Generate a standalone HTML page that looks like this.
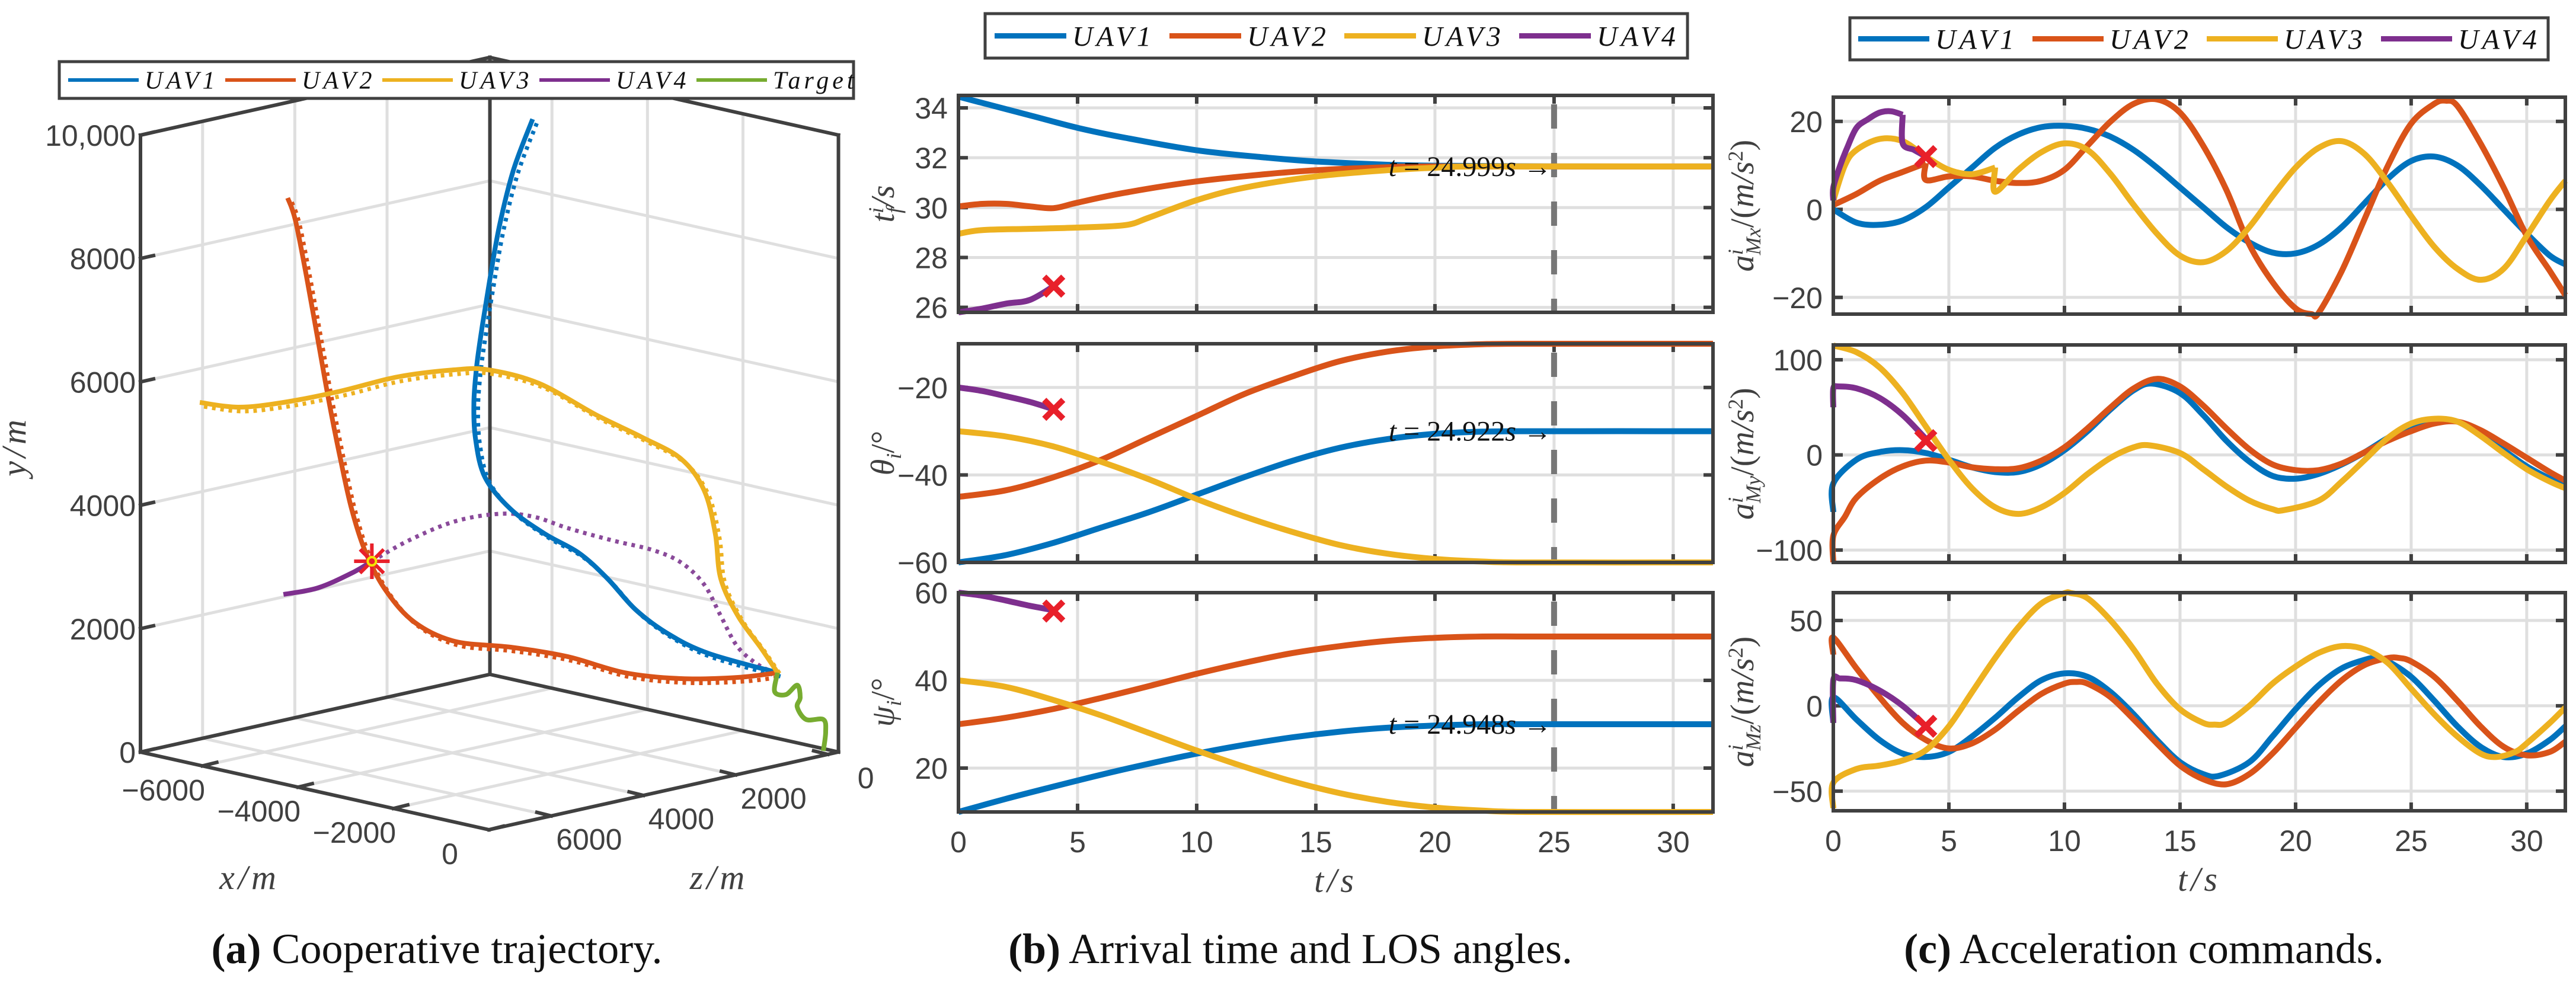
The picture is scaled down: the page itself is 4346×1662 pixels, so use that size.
<!DOCTYPE html>
<html><head><meta charset="utf-8">
<style>
html,body{margin:0;padding:0;background:#fff;}
svg{display:block;}
text{font-family:"Liberation Sans",sans-serif;}
.tk{font-size:50px;fill:#404040;}
text.mi,.mi{font-family:"Liberation Serif",serif;font-style:italic;}
text.ser{font-family:"Liberation Serif",serif;}
text.cap{font-family:"Liberation Serif",serif;font-size:72px;fill:#111;}
</style></head>
<body>
<svg id="fig" width="4346" height="1662" viewBox="0 0 4346 1662" xmlns="http://www.w3.org/2000/svg">
<g id="pa"></g>
<g id="pb"></g>
<g id="pc"></g>
<text class="cap" x="737" y="1625" text-anchor="middle"><tspan font-weight="bold">(a)</tspan> Cooperative trajectory.</text>
<text class="cap" x="2177" y="1625" text-anchor="middle"><tspan font-weight="bold">(b)</tspan> Arrival time and LOS angles.</text>
<text class="cap" x="3617" y="1625" text-anchor="middle"><tspan font-weight="bold">(c)</tspan> Acceleration commands.</text>
</svg>
<script>
// ---------- Panel (a) 3D data (metres) ----------
const uav1X=[-3197,-3396,-3545,-3650,-3724,-3780,-3811,-3793,-3693,-3427,-3066,-2713,-2415,-2117,-1763,-1347,-633];
const uav1Y=[10259,9443,8521,7608,6897,6282,5668,5062,4448,3938,3535,3228,2815,2305,1902,1595,1287];
const uav1Z=[3092,3298,3453,3562,3639,3697,3729,3710,3607,3330,2957,2590,2281,1972,1605,1174,434];
const uav2X=[-5760,-5680,-5562,-5444,-5326,-5208,-5090,-4941,-4730,-4432,-4016,-3427,-2831,-2235,-1645,-1049,-633];
const uav2Y=[8982,8626,7704,6686,5668,4755,3938,3228,2613,2104,1796,1700,1547,1287,1191,1210,1287];
const uav2Z=[5750,5667,5545,5422,5300,5178,5056,4901,4682,4373,3942,3330,2712,2094,1483,865,434];
const uav3X=[-6679,-6276,-5804,-5208,-4612,-4016,-3662,-3128,-2533,-2061,-1645,-1403,-1285,-1229,-1049,-813,-633];
const uav3Y=[5668,5591,5668,5850,6081,6196,6196,5975,5466,5110,4755,4246,3535,2815,2209,1700,1287];
const uav3Z=[6703,6285,5796,5178,4560,3942,3575,3021,2403,1914,1483,1232,1109,1051,865,620,434];
const uav4X=[-5804,-5444,-5090,-4879];
const uav4Y=[2555,2661,2901,3093];
const uav4Z=[5796,5422,5056,4836];
const uav4PlanX=[-4879,-4494,-4016,-3545,-3184,-2831,-2359,-1943,-1645,-1403,-1229,-1049,-813,-633];
const uav4PlanY=[3093,3429,3737,3862,3814,3631,3429,3276,3074,2719,2209,1700,1393,1287];
const uav4PlanZ=[4836,4437,3942,3453,3079,2712,2223,1792,1483,1232,1051,865,620,434];
const tgtX=[-633,-664,-546,-428,-397,-428,-335,-155,-130,-155];
const tgtY=[1287,980,932,1085,884,730,528,528,327,19];
const tgtZ=[434,466,344,221,189,221,124,-62,-88,-62];
const yTicks3=[0,2000,4000,6000,8000,10000];
const yTickLabels3=["0","2000","4000","6000","8000","10,000"];
const xTicks3=[-6000,-4000,-2000,0];
const zTicks3=[6000,4000,2000,0];

// ---------- Panel (b) data ----------
const tfT1=[0,3,5,7,10,13,15,18,20,25,31.67];
const tfV1=[34.45,33.7,33.2,32.8,32.3,32.0,31.85,31.72,31.68,31.65,31.65];
const tfT2=[0,1,2,3,4,5,7,10,13,15,18,20,31.67];
const tfV2=[30.05,30.15,30.15,30.05,29.98,30.2,30.6,31.05,31.35,31.5,31.62,31.65,31.65];
const tfT3=[0,1,3,5,7,8,10,12,15,18,20,22,31.67];
const tfV3=[28.95,29.1,29.15,29.2,29.3,29.6,30.3,30.8,31.25,31.5,31.6,31.65,31.65];
const tfT4=[0,1,2,3,4];
const tfV4=[25.8,25.95,26.15,26.3,26.85];
const angT=[0,2,4,6,8,10,12,14,16,18,20,22,24,31.67];
const thV1=[-60,-58.3,-55.5,-52,-48.5,-44.5,-40.5,-36.8,-33.8,-31.8,-30.6,-30.1,-30,-30];
const thV2=[-45,-43.5,-40.5,-36.5,-31.5,-26.5,-21.5,-17.5,-14,-11.8,-10.6,-10.1,-10,-10];
const thV3=[-30,-31.2,-33.5,-37,-41,-45.5,-49.5,-53,-56,-58,-59.2,-59.8,-60,-60];
const t4Short=[0,1,2,3,4];
const thV4=[-20,-20.8,-22,-23.3,-25];
const psV1=[10,13,15.8,18.5,21,23.3,25.3,27,28.3,29.2,29.7,30,30,30];
const psV2=[30,31.5,33.5,36,38.7,41.5,44,46.2,47.8,49,49.7,50,50,50];
const psV3=[40,38.5,35.5,32,28,24,20.3,17,14.3,12.3,11,10.3,10,10];
const psV4=[60,59.3,58.2,57,56];
const crashT=4, crashTf=26.85, crashTh=-25, crashPs=55.8;
const annTimes=["24.999","24.922","24.948"];
const annVals=[31.65,-30,30];
const tTicks=[0,5,10,15,20,25,30];

// ---------- Panel (c) data ----------
const axT1=[0,1,2,3,4,5,6,7,8,9,10,11,12,13,14,15,16,17,18,19,20,21,22,23,24,25,26,27,28,29,30,31,31.67];
const axV1=[0,-3,-3.5,-2.5,0.5,5,9.5,14,17,18.7,19,18.3,16.5,13.5,9.5,5,0.5,-4,-7.5,-9.8,-10,-8,-4,1.5,7,11,12,10,5.5,0,-5.5,-10.5,-12.5];
const axT2=[0,1,2,3,4,4,5,6,7,8,9,10,11,12,13,14,15,16,17,18,19,20,20.7,21,22,23,24,25,26,26.5,27,28,29,30,31,31.67];
const axV2=[1,3.5,6.5,8.5,10.5,6.7,7.5,7.5,6.5,6,6.5,9,14.5,20,24,25,22,14.5,4.5,-8,-16.5,-22.5,-23.8,-23.5,-14,-2,10,19.5,24,24.7,23.5,15,5,-6,-14,-19.5];
const axT3=[0,0.5,1,2,3,4,5,6,7,7,8,9,10,11,12,13,14,15,16,17,18,19,20,21,22,23,24,25,26,27,28,29,30,31,31.67];
const axV3=[2,10,13.5,16,15.5,12,9,8,9.5,4,9,13,15,13.5,8,1,-5.5,-10.5,-12,-9.5,-4,3,9.5,14,15.5,12.5,6,-1.5,-8.5,-13.5,-16,-13.5,-6,2,6.5];
const axT4=[0,0,0.3,0.6,1,1.5,2,2.5,3,3,3.5,4];
const axV4=[2,5,10,14,18.5,20.5,22,22.3,21.5,15,13.5,12];
const ayT1=[0,0,1,2,3,4,5,6,7,8,9,10,11,12,13,13.8,15,16,17,18,19,20,21,22,23,24,25,26,27,28,29,30,31,31.67];
const ayV1=[-60,-30,-5,3,5,2,-5,-13,-18,-18,-10,5,25,48,68,75,65,42,15,-7,-22,-25,-20,-10,3,18,30,37,35,22,5,-12,-25,-32];
const ayT2=[0,0,0.5,1,2,3,4,5,6,7,8,9,10,11,12,13,14,15,16,17,18,19,20,21,22,23,24,25,26,27,28,29,30,31,31.67];
const ayV2=[-113,-85,-65,-45,-25,-12,-6,-8,-13,-15,-14,-6,8,28,50,70,80,72,52,28,6,-10,-16,-16,-9,3,15,25,33,35,26,12,-3,-18,-27];
const ayT3=[0,1,2,3,4,5,6,7,8,9,10,11,12,13,13.7,15,16,17,18,19,19.5,21,22,23,24,25,26,27,28,29,30,31,31.67];
const ayV3=[115,108,92,65,30,-5,-35,-55,-62,-55,-40,-20,-3,8,10,2,-15,-33,-48,-57,-58,-48,-28,-5,18,33,38,35,20,2,-15,-28,-35];
const ayT4=[0,0,0.2,1,2,3,4];
const ayV4=[50,70,72,70,60,42,17];
const azT1=[0,0,1,2,3,4,5,6,7,8,9,10,11,12,13,14,15,16,16.7,18,19,20,21,22,23,23.5,24,25,26,27,28,29,30,31,31.67];
const azV1=[-10,5,-8,-20,-28,-30,-27,-18,-7,5,15,19,17,8,-5,-20,-33,-40,-41,-33,-18,-2,12,22,27,28,26,17,3,-12,-24,-30,-28,-20,-12];
const azT2=[0,0,1,2,3,4,5,6,7,8,9,10,10.5,11,12,13,14,15,16,17,18,19,20,21,22,23,24,24.5,25,26,27,28,29,30,31,31.67];
const azV2=[30,40,22,5,-10,-20,-25,-22,-14,-3,7,13,14,13,5,-8,-22,-35,-43,-46,-40,-28,-13,2,15,24,28,28,26,17,3,-12,-24,-29,-27,-21];
const azT3=[0,0,1,2,3,4,5,6,7,8,9,10,10.3,11,12,13,14,15,16,16.5,17,18,19,20,21,22,23,24,25,26,27,28,28.7,29.5,30,31,31.67];
const azV3=[-60,-45,-37,-35,-32,-26,-12,8,28,46,60,66,66,63,50,33,13,-2,-10,-11,-10,0,13,23,31,35,33,25,10,-5,-18,-28,-30,-27,-22,-10,-1];
const azT4=[0,0,0.3,1,2,3,4];
const azV4=[-10,15,16,15,9,0,-12];
const crashAx=12, crashAy=15, crashAz=-12;

const C={b:"#0072BD",r:"#D95319",y:"#EDB120",p:"#7E2F8E",g:"#77AC30",x:"#E8202A",ax:"#404040",gr:"#dfdfdf"};
const NS="http://www.w3.org/2000/svg";
function mk(parent,tag,attrs){const e=document.createElementNS(NS,tag);for(const k in attrs)e.setAttribute(k,attrs[k]);parent.appendChild(e);return e;}
function smooth(pts){
  if(pts.length<2)return "";
  let d="M"+pts[0][0].toFixed(1)+","+pts[0][1].toFixed(1);
  for(let i=0;i<pts.length-1;i++){
    const p0=pts[i-1]||pts[i],p1=pts[i],p2=pts[i+1],p3=pts[i+2]||p2;
    const c1=[p1[0]+(p2[0]-p0[0])/6,p1[1]+(p2[1]-p0[1])/6];
    const c2=[p2[0]-(p3[0]-p1[0])/6,p2[1]-(p3[1]-p1[1])/6];
    d+="C"+c1[0].toFixed(1)+","+c1[1].toFixed(1)+" "+c2[0].toFixed(1)+","+c2[1].toFixed(1)+" "+p2[0].toFixed(1)+","+p2[1].toFixed(1);
  }
  return d;
}
function seriesPath2(ts,vs,fx,fy){
  let parts=[],seg=[];
  for(let i=0;i<ts.length;i++){
    const p=[fx(ts[i]),fy(vs[i])];
    if(i>0&&ts[i]===ts[i-1]){parts.push(seg);seg=[seg[seg.length-1],p];}
    else seg.push(p);
  }
  parts.push(seg);
  return parts.map(s=>s.length===2&&s[0][0]===s[1][0]?"M"+s[0][0]+","+s[0][1]+"L"+s[1][0]+","+s[1][1]:smooth(s)).join("");
}
function cross(g,x,y,name){
  const s=16;
  const e=mk(g,"path",{d:`M${x-s},${y-s}L${x+s},${y+s}M${x-s},${y+s}L${x+s},${y-s}`,stroke:C.x,"stroke-width":10,fill:"none"});
  
  
}
function legend(g,x0,y0,x1,y1,startX,spacing,lineLen,lw,fs,names,cols,prefix){
  const box=mk(g,"rect",{x:x0,y:y0,width:x1-x0,height:y1-y0,fill:"#fff",stroke:C.ax,"stroke-width":5});
  
  
  const yc=(y0+y1)/2;
  names.forEach((n,i)=>{
    const lx=startX+i*spacing;
    const ln=mk(g,"line",{x1:lx,y1:yc,x2:lx+lineLen,y2:yc,stroke:cols[i],"stroke-width":lw});
    
    
    const t=mk(g,"text",{x:lx+lineLen+10,y:yc+fs*0.35,"font-size":fs,"letter-spacing":"6",fill:"#111",class:"mi"});
    t.textContent=n;
    
    
  });
}

function subplot(g,o){
  const fx=t=>o.x0+(t-o.tmin)/(o.tmax-o.tmin)*(o.x1-o.x0);
  const fy=v=>o.y1-(v-o.vmin)/(o.vmax-o.vmin)*(o.y1-o.y0);
  const grid=mk(g,"g",{});
  
  
  tTicks.forEach(t=>{if(t>o.tmin&&t<o.tmax)mk(grid,"line",{x1:fx(t),x2:fx(t),y1:o.y0,y2:o.y1,stroke:C.gr,"stroke-width":5});});
  o.yt.forEach(v=>{mk(grid,"line",{x1:o.x0,x2:o.x1,y1:fy(v),y2:fy(v),stroke:C.gr,"stroke-width":5});});
  const ticks=mk(g,"g",{stroke:C.ax,"stroke-width":6});
  
  
  tTicks.forEach(t=>{if(t>o.tmin&&t<o.tmax){mk(ticks,"line",{x1:fx(t),x2:fx(t),y1:o.y0,y2:o.y0+14});mk(ticks,"line",{x1:fx(t),x2:fx(t),y1:o.y1,y2:o.y1-14});}});
  o.yt.forEach(v=>{mk(ticks,"line",{x1:o.x0,x2:o.x0+16,y1:fy(v),y2:fy(v)});mk(ticks,"line",{x1:o.x1,x2:o.x1-16,y1:fy(v),y2:fy(v)});});
  const yl=mk(g,"g",{class:"tk","text-anchor":"end"});
  
  
  o.yt.forEach((v,i)=>{const t=mk(yl,"text",{x:o.x0-18,y:fy(v)+18});t.textContent=o.ytl[i];});
  if(o.dash){const d=mk(g,"line",{x1:fx(25),x2:fx(25),y1:o.y0,y2:o.y1,stroke:"#777","stroke-width":10,"stroke-dasharray":"41 41","stroke-dashoffset":"-15"});
    }
  o.series.forEach(s=>{
    const p=mk(g,"path",{d:seriesPath2(s.t,s.v,fx,fy),stroke:s.c,"stroke-width":10,fill:"none","stroke-linejoin":"round"});
    
    
  });
  if(o.cross!==undefined)cross(g,fx(crashT),fy(o.cross),o.name+'-uav4-crash-marker');
  if(o.ann){const t=mk(g,"text",{x:fx(25)-4,y:fy(o.ann.v)+16,"text-anchor":"end","font-size":48,fill:"#111",class:"ser"});
    t.innerHTML='<tspan font-style="italic">t</tspan> = 24.'+o.ann.s.split('.')[1]+'<tspan font-style="italic">s</tspan> →';
    }
  const br=mk(g,"rect",{x:o.x0,y:o.y0,width:o.x1-o.x0,height:o.y1-o.y0,fill:"none",stroke:C.ax,"stroke-width":6});
  
  const lab=mk(g,"text",{transform:`translate(${o.labX},${(o.y0+o.y1)/2}) rotate(-90)`,"text-anchor":"middle","font-size":56,fill:"#404040",class:"ser"});
  lab.innerHTML=o.label;
  
  if(o.xl){
    const xl=mk(g,"g",{class:"tk","text-anchor":"middle"});
    
    tTicks.forEach(t=>{const e=mk(xl,"text",{x:fx(t),y:o.y1+68});e.textContent=String(t);});
    const tt=mk(g,"text",{x:(o.x0+o.x1)/2,y:o.y1+135,"text-anchor":"middle","font-size":58,fill:"#404040",class:"mi","letter-spacing":"6"});
    tt.textContent="t/s";
  }
}
const pb=document.getElementById("pb"), pc=document.getElementById("pc");
const S=(t,v,c,n)=>({t,v,c,n});
const bx={x0:1617,x1:2890,tmin:0,tmax:31.67,labX:1508,dash:true};
subplot(pb,Object.assign({},bx,{name:"arrival-time",y0:161,y1:527,vmin:25.8,vmax:34.5,yt:[26,28,30,32,34],ytl:["26","28","30","32","34"],
  series:[S(tfT1,tfV1,C.b,"uav1"),S(tfT2,tfV2,C.r,"uav2"),S(tfT3,tfV3,C.y,"uav3"),S(tfT4,tfV4,C.p,"uav4")],cross:crashTf,
  ann:{v:annVals[0],s:annTimes[0]},label:'<tspan font-style="italic">t</tspan><tspan font-size="36" dy="-18" font-style="italic">i</tspan><tspan font-size="36" dy="30" dx="-10" font-style="italic">f</tspan><tspan dy="-12" font-style="italic">/s</tspan>'}));
subplot(pb,Object.assign({},bx,{name:"theta",y0:580,y1:949,vmin:-60,vmax:-10,yt:[-60,-40,-20],ytl:["−60","−40","−20"],
  series:[S(angT,thV1,C.b,"uav1"),S(angT,thV2,C.r,"uav2"),S(angT,thV3,C.y,"uav3"),S(t4Short,thV4,C.p,"uav4")],cross:crashTh,
  ann:{v:annVals[1],s:annTimes[1]},label:'<tspan font-style="italic">θ</tspan><tspan font-size="36" dy="12" font-style="italic">i</tspan><tspan dy="-12">/°</tspan>'}));
subplot(pb,Object.assign({},bx,{name:"psi",y0:1000,y1:1370,vmin:10,vmax:60,yt:[20,40,60],ytl:["20","40","60"],
  series:[S(angT,psV1,C.b,"uav1"),S(angT,psV2,C.r,"uav2"),S(angT,psV3,C.y,"uav3"),S(t4Short,psV4,C.p,"uav4")],cross:crashPs,
  ann:{v:annVals[2],s:annTimes[2]},xl:true,label:'<tspan font-style="italic">ψ</tspan><tspan font-size="36" dy="12" font-style="italic">i</tspan><tspan dy="-12">/°</tspan>'}));
legend(pb,1662,23,2847,98,1678,295,121,9,48,["UAV1","UAV2","UAV3","UAV4"],[C.b,C.r,C.y,C.p],"panel-b");

const cx={x0:3093,x1:4328,tmin:0,tmax:31.67,labX:2958,dash:false};
const accLab=s=>'<tspan font-style="italic">a</tspan><tspan font-size="36" dy="-18" font-style="italic">i</tspan><tspan font-size="36" dy="30" dx="-10" font-style="italic">M'+s+'</tspan><tspan dy="-12">/(</tspan><tspan font-style="italic">m/s</tspan><tspan font-size="36" dy="-18">2</tspan><tspan dy="18">)</tspan>';
subplot(pc,Object.assign({},cx,{name:"accel-x",y0:164,y1:530,vmin:-23.8,vmax:25.5,yt:[-20,0,20],ytl:["−20","0","20"],
  series:[S(axT1,axV1,C.b,"uav1"),S(axT2,axV2,C.r,"uav2"),S(axT3,axV3,C.y,"uav3"),S(axT4,axV4,C.p,"uav4")],cross:crashAx,label:accLab("x")}));
subplot(pc,Object.assign({},cx,{name:"accel-y",y0:582,y1:949,vmin:-113,vmax:115.6,yt:[-100,0,100],ytl:["−100","0","100"],
  series:[S(ayT1,ayV1,C.b,"uav1"),S(ayT2,ayV2,C.r,"uav2"),S(ayT3,ayV3,C.y,"uav3"),S(ayT4,ayV4,C.p,"uav4")],cross:crashAy,label:accLab("y")}));
subplot(pc,Object.assign({},cx,{name:"accel-z",y0:1000,y1:1368,vmin:-61.5,vmax:66.3,yt:[-50,0,50],ytl:["−50","0","50"],
  series:[S(azT1,azV1,C.b,"uav1"),S(azT2,azV2,C.r,"uav2"),S(azT3,azV3,C.y,"uav3"),S(azT4,azV4,C.p,"uav4")],cross:crashAz,xl:true,label:accLab("z")}));
legend(pc,3121,30,4299,101,3135,294,120,9,48,["UAV1","UAV2","UAV3","UAV4"],[C.b,C.r,C.y,C.p],"panel-c");

// ---------- Panel (a) 3D ----------
const pa=document.getElementById("pa");
const XMIN=-7300,ZMAX=7347,ZMIN=-230,YMAX=10000;
function P(x,y,z){return [825+588*x/7300+589*(ZMAX-z)/7570, 1400+131*x/7300-131*(ZMAX-z)/7570-0.1041*y];}
function L(g,a,b,st,w){return mk(g,"line",{x1:a[0],y1:a[1],x2:b[0],y2:b[1],stroke:st,"stroke-width":w});}
const g3=mk(pa,"g",{});


yTicks3.forEach(y=>{L(g3,P(XMIN,y,ZMAX),P(XMIN,y,ZMIN),C.gr,5);L(g3,P(XMIN,y,ZMIN),P(0,y,ZMIN),C.gr,5);});
zTicks3.slice(0,3).forEach(z=>{L(g3,P(XMIN,0,z),P(XMIN,YMAX,z),C.gr,5);L(g3,P(XMIN,0,z),P(0,0,z),C.gr,5);});
xTicks3.slice(0,3).forEach(x=>{L(g3,P(x,0,ZMIN),P(x,YMAX,ZMIN),C.gr,5);L(g3,P(x,0,ZMIN),P(x,0,ZMAX),C.gr,5);});
const box3=mk(pa,"g",{stroke:C.ax,"stroke-width":6,"stroke-linecap":"square"});


[[[XMIN,0,ZMAX],[XMIN,YMAX,ZMAX]],[[XMIN,0,ZMIN],[XMIN,YMAX,ZMIN]],[[0,0,ZMIN],[0,YMAX,ZMIN]],
 [[XMIN,YMAX,ZMAX],[XMIN,YMAX,ZMIN]],[[XMIN,YMAX,ZMIN],[0,YMAX,ZMIN]],
 [[XMIN,0,ZMAX],[XMIN,0,ZMIN]],[[XMIN,0,ZMIN],[0,0,ZMIN]],[[XMIN,0,ZMAX],[0,0,ZMAX]],[[0,0,ZMAX],[0,0,ZMIN]]
].forEach(s=>L(box3,P(...s[0]),P(...s[1]),C.ax,6));
yTicks3.forEach(y=>{const a=P(XMIN,y,ZMAX);L(box3,a,[a[0]+22,a[1]-5],C.ax,6);});
xTicks3.forEach(x=>{const a=P(x,0,ZMAX);L(box3,a,[a[0]+24,a[1]-6],C.ax,6);});
zTicks3.forEach(z=>{const a=P(0,0,z);L(box3,a,[a[0]-24,a[1]-6],C.ax,6);});
const tl3=mk(pa,"g",{class:"tk"});


yTicks3.forEach((y,i)=>{const a=P(XMIN,y,ZMAX);const t=mk(tl3,"text",{x:a[0]-8,y:a[1]+18,"text-anchor":"end"});t.textContent=yTickLabels3[i];});
xTicks3.forEach(x=>{const a=P(x,0,ZMAX);const t=mk(tl3,"text",{x:a[0]-66,y:a[1]+58,"text-anchor":"middle"});t.textContent=x===0?"0":"−"+Math.abs(x);});
zTicks3.forEach(z=>{const a=P(0,0,z);const t=mk(tl3,"text",{x:a[0]+64,y:a[1]+57,"text-anchor":"middle"});t.textContent=String(z);});
[["y/m",43,753,true,"panel-a-y-axis-title"],["x/m",421,1500,false,"panel-a-x-axis-title"],["z/m",1213,1500,false,"panel-a-z-axis-title"]].forEach(a=>{
  const t=mk(pa,"text",{x:a[1],y:a[2],"text-anchor":"middle","font-size":58,"letter-spacing":"6",fill:"#404040",class:"mi",transform:a[3]?`rotate(-90 ${a[1]} ${a[2]})`:""});
  t.textContent=a[0];
});
function path3(X,Y,Z,col,w,name,dash,off){
  const pts=X.map((x,i)=>{const p=P(x,Y[i],Z[i]);return [p[0]+(off||0),p[1]+(off||0)];});
  const e=mk(pa,"path",{d:smooth(pts),stroke:col,"stroke-width":w,fill:"none","stroke-linejoin":"round"});
  if(dash)e.setAttribute("stroke-dasharray",dash);
  
  
}
path3(uav1X,uav1Y,uav1Z,C.b,7,"uav1-planned-path","6 8",7);
path3(uav2X,uav2Y,uav2Z,C.r,7,"uav2-planned-path","6 8",7);
path3(uav3X,uav3Y,uav3Z,C.y,7,"uav3-planned-path","6 8",7);
path3(uav4PlanX,uav4PlanY,uav4PlanZ,"#8a4a9a",7,"uav4-planned-path","6 8",0);
path3(uav1X,uav1Y,uav1Z,C.b,8,"uav1-trajectory");
path3(uav2X,uav2Y,uav2Z,C.r,8,"uav2-trajectory");
path3(uav3X,uav3Y,uav3Z,C.y,8,"uav3-trajectory");
path3(uav4X,uav4Y,uav4Z,C.p,8,"uav4-trajectory");
path3(tgtX,tgtY,tgtZ,C.g,8,"target-trajectory");
const cp=P(uav4X[3],uav4Y[3],uav4Z[3]);
const star=mk(pa,"path",{d:`M${cp[0]-30},${cp[1]}h60M${cp[0]},${cp[1]-30}v60M${cp[0]-20},${cp[1]-20}l40,40M${cp[0]-20},${cp[1]+20}l40,-40`,stroke:C.x,"stroke-width":6,fill:"none"});


const circ=mk(pa,"circle",{cx:cp[0],cy:cp[1],r:7,fill:"none",stroke:"#f2e500","stroke-width":4});


legend(pa,100,104,1440,166,115,265,119,6,42,["UAV1","UAV2","UAV3","UAV4","Target"],[C.b,C.r,C.y,C.p,C.g],"panel-a");
</script>
</body></html>
